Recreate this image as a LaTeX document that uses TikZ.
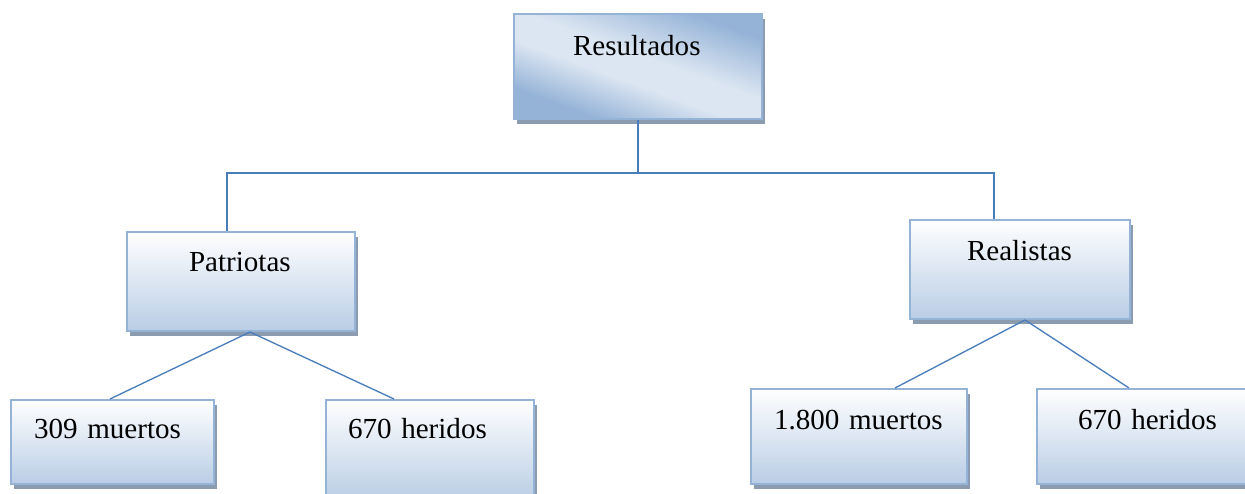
\documentclass[tikz,border=0pt]{standalone}
\usepackage{fontspec}
\setmainfont{Liberation Serif}
\usepackage{tikz}
\usetikzlibrary{shadows}

\definecolor{boxline}{HTML}{95B3D7}
\definecolor{boxfill}{HTML}{B9CDE5}
\definecolor{boxshadow}{HTML}{8C9CB0}
\definecolor{resdark}{HTML}{95B3D7}
\definecolor{reslight}{HTML}{DCE6F2}
\definecolor{linkblue}{HTML}{4A7EBB}

\pgfdeclareverticalshading{resshade}{100bp}{color(0bp)=(resdark); color(28bp)=(resdark); color(44bp)=(reslight); color(54bp)=(reslight); color(74bp)=(resdark); color(100bp)=(resdark)}

\begin{document}
\begin{tikzpicture}[
		x=0.75pt, y=-0.75pt
		,every node/.append style={font=\fontsize{21.8pt}{26pt}\selectfont}
		,box/.style={draw=boxline, line width=1.5pt, anchor=north west, align=left, inner ysep=0pt, top color=white, bottom color=boxfill, drop shadow={shadow xshift=2.25pt, shadow yshift=-3.75pt, fill=boxshadow, opacity=1}}
		,top/.style={text height=30.75pt, text depth=48pt, shade, shading=resshade, shading angle=-20}
		,link/.style={draw=linkblue, line width=1pt}
	]
		\path[use as bounding box, clip] (0,0) rectangle (1245,493);

		\node [box, top, inner xsep=44.25pt, text width=97.5pt] (res) at (513,13) {Resultados};

		\node [box, inner xsep=46.5pt, text width=78pt, text height=29.25pt, text depth=45pt] (pat) at (126,231) {Patriotas};
		\node [box, inner xsep=42.75pt, text width=79.5pt, text height=30pt, text depth=44.25pt] (rea) at (909,219) {Realistas};

		\node [box, inner xsep=17.25pt, text width=117.75pt, text height=28.5pt, text depth=34.5pt] (pm) at (10,399) {309 muertos};
		\node [box, inner xsep=16.5pt, text width=123pt, text height=28.5pt, text depth=46.5pt] (ph) at (325,399) {670 heridos};
		\node [box, inner xsep=17.25pt, text width=127.5pt, text height=30pt, text depth=41.25pt] (rm) at (750,388) {1.800 muertos};
		\node [box, inner xsep=30.75pt, text width=111pt, text height=30pt, text depth=41.25pt] (rh) at (1036,388) {670 heridos};

		% elbow from the root
		\draw [link] (res.south) -- ++(0,53) coordinate (fork);
		\draw [link] (fork) -| ([xshift=-10.5pt]pat.north);
		\draw [link] (fork) -| ([xshift=-19.5pt]rea.north);

		\draw [link] ([xshift=6.75pt]pat.south) -- ([xshift=-1.9pt]pm.north);
		\draw [link] ([xshift=6.75pt]pat.south) -- ([xshift=-27pt]ph.north);
		\draw [link] ([xshift=3.75pt]rea.south) -- ([xshift=27pt]rm.north);
		\draw [link] ([xshift=3.75pt]rea.south) -- ([xshift=-17.25pt]rh.north);
	\end{tikzpicture}
\end{document}
